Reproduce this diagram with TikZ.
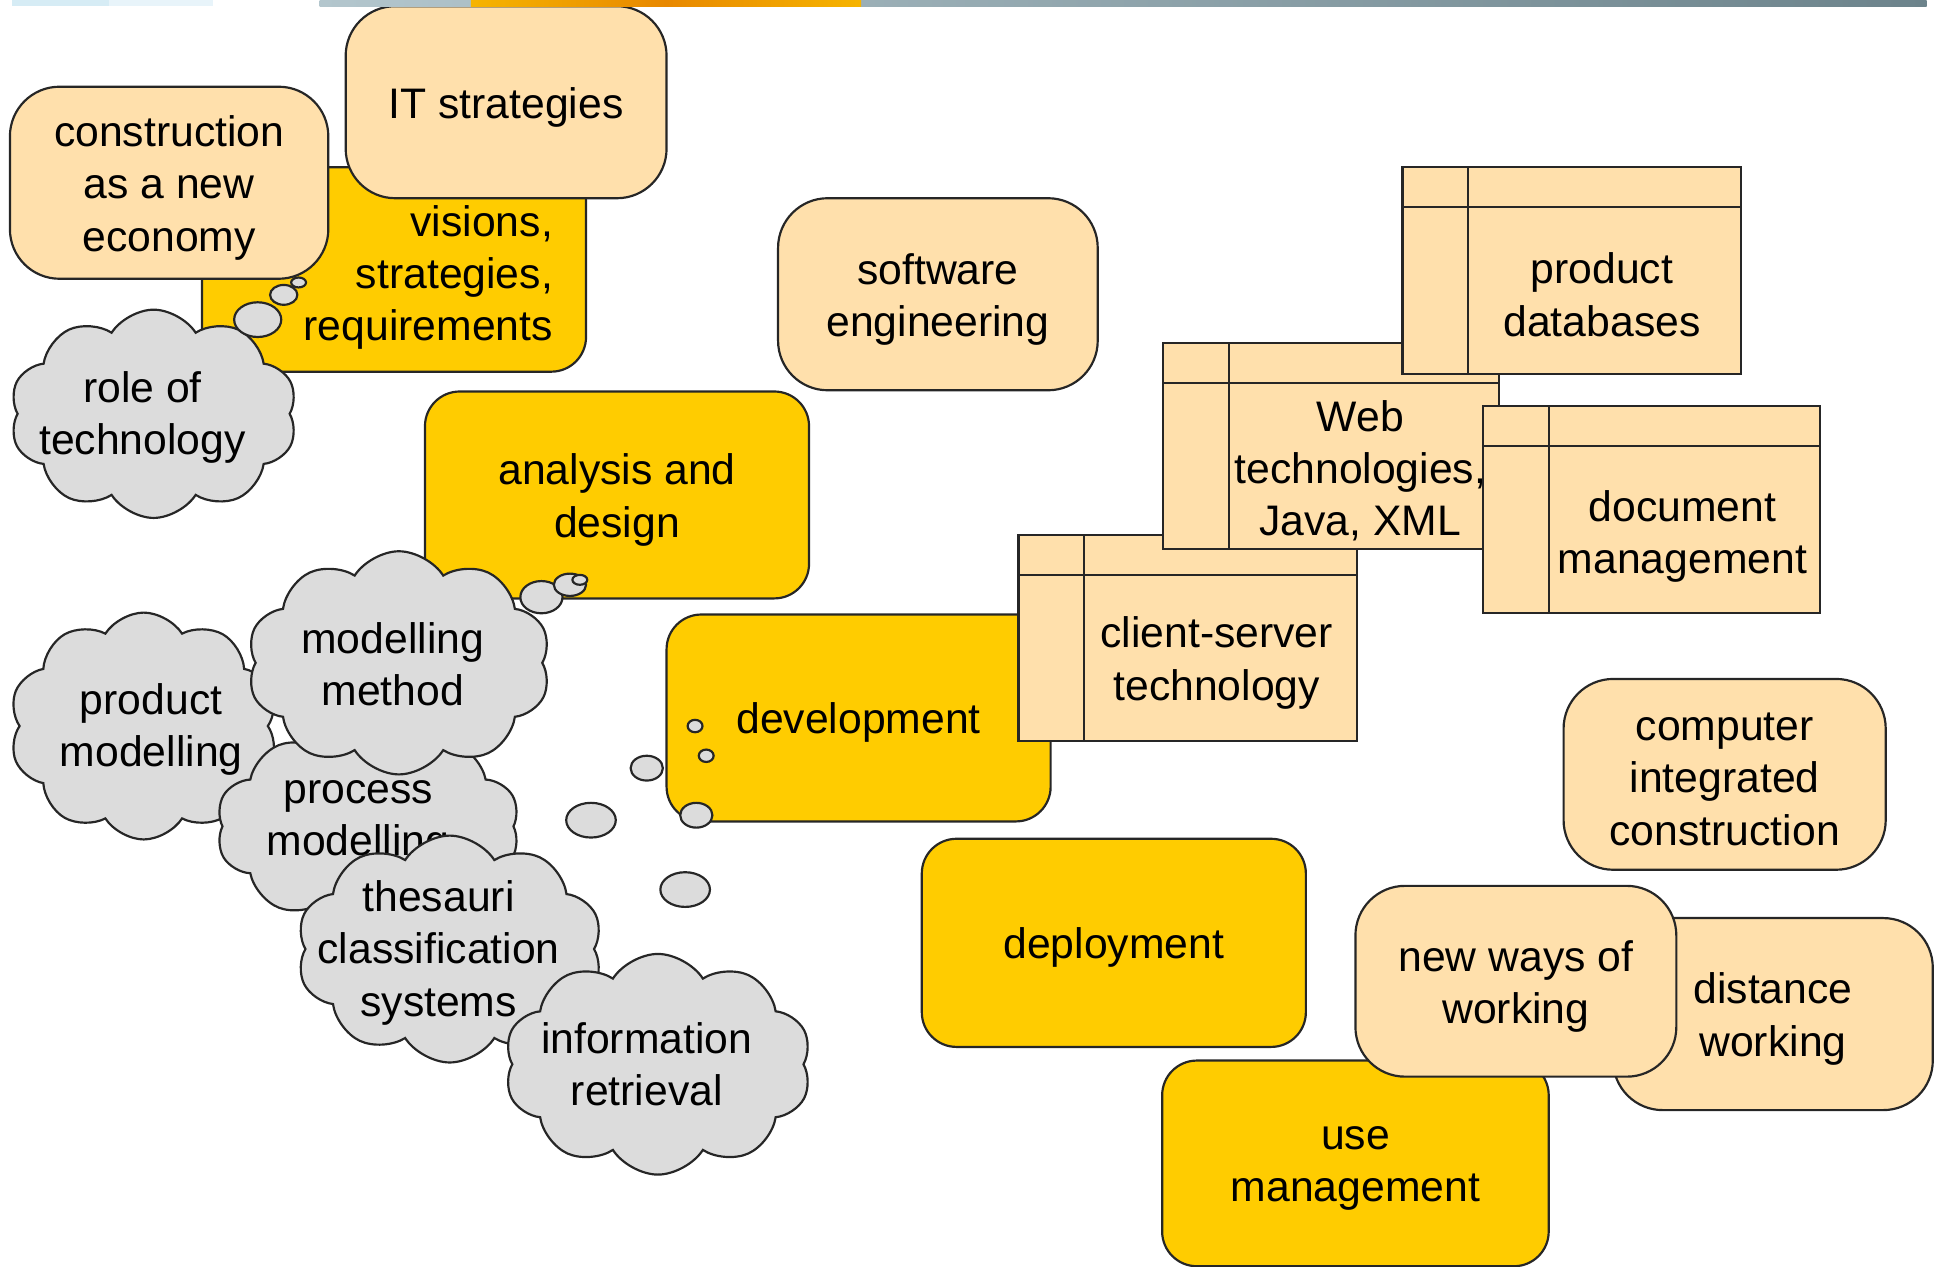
\documentclass[tikz,border=0pt]{standalone}
\usepackage{fontspec}
\setmainfont{Liberation Sans}
\usetikzlibrary{shapes.symbols,shapes.geometric}
\definecolor{lor}{HTML}{FFE0AC}
\definecolor{ylw}{HTML}{FFCC00}
\definecolor{cgray}{HTML}{DCDCDC}
\definecolor{edge}{HTML}{262626}
\definecolor{stripA}{HTML}{D6ECF5}
\definecolor{stripB}{HTML}{E8F4FA}
\definecolor{stripC}{HTML}{B3C6CD}
\definecolor{stripD}{HTML}{6C838B}
\definecolor{stripE}{HTML}{F6B400}
\definecolor{stripF}{HTML}{E88800}
% box: style, name, x1, y1, x2, y2, text (centred)
\newcommand{\bx}[7]{%
  \node[#1, minimum width={(#5-#3)*0.01cm}, minimum height={(#6-#4)*0.01cm}]
    (#2) at ({(#3+#5)/2},{(#4+#6)/2}) {};
  \node[txt] (#2T) at (#2.center) {#7};
}
\newcommand{\tblbox}[8]{% name, x1,y1,x2,y2, textx, texty, text
  \node[tbox, minimum width={(#4-#2)*0.01cm}, minimum height={(#5-#3)*0.01cm}]
    (#1) at ({(#2+#4)/2},{(#3+#5)/2}) {};
  \draw[tline] ([xshift=0.54cm]#1.north west) -- ([xshift=0.54cm]#1.south west);
  \draw[tline] ([yshift=-0.33cm]#1.north west) -- ([yshift=-0.33cm]#1.north east);
  \node[txt] (#1T) at (#6,#7) {#8};
}
\begin{document}
\begin{tikzpicture}[x=0.01cm,y=-0.01cm,
  font=\fontsize{9.8}{12}\selectfont,
  base/.style={draw=edge, line width=0.5pt, inner sep=0pt, align=center},
  lbox/.style={base, fill=lor, rounded corners=0.4cm},
  ybox/.style={base, fill=ylw, rounded corners=0.28cm},
  tbox/.style={base, fill=lor},
  tline/.style={draw=edge, line width=0.5pt},
  cld/.style={base, fill=cgray, cloud, cloud puffs=10, cloud puff arc=115, cloud ignores aspect},
  bub/.style={base, fill=cgray, ellipse},
  txt/.style={inner sep=0pt, align=center, yshift=-0.04cm},
]
\useasboundingbox (0,0) rectangle (1565,1022);

% top left group
\bx{ybox}{vis}{163}{135}{473}{300}{}
\node[txt, align=right, anchor=east] (visTx) at (447,220) {visions,\\strategies,\\requirements};
\bx{lbox}{cons}{8}{70}{265}{225}{construction\\as a new\\economy}
\bx{lbox}{its}{279}{5}{538}{160}{IT strategies}

\node[cld, minimum width=2.32cm, minimum height=1.68cm] (role) at (124,334) {};
\node[txt] (roleT) at (115,333) {role of\\technology};
\node[bub, minimum width=0.38cm, minimum height=0.28cm] (rb1) at (208,258) {};
\node[bub, minimum width=0.22cm, minimum height=0.16cm] (rb2) at (229,238) {};
\node[bub, minimum width=0.12cm, minimum height=0.08cm] (rb3) at (241,228) {};

\bx{lbox}{soft}{628}{160}{886}{315}{software\\engineering}
\bx{ybox}{ana}{343}{316}{653}{483}{analysis and\\design}
\bx{ybox}{dev}{538}{496}{848}{663}{development}

% clouds
\node[cld, minimum width=2.17cm, minimum height=1.83cm] (prod) at (116,586) {};
\node[txt] (prodT) at (122,585) {product\\modelling};
\node[cld, minimum width=2.45cm, minimum height=1.62cm] (proc) at (297,667) {};
\node[txt] (procT) at (289,660) {process\\modelling};
\node[cld, minimum width=2.45cm, minimum height=1.80cm] (meth) at (322,535) {};
\node[txt] (methT) at (317,532) {modelling\\method};
\node[bub, minimum width=0.34cm, minimum height=0.26cm] (mb1) at (437,482) {};
\node[bub, minimum width=0.26cm, minimum height=0.18cm] (mb2) at (460,472) {};
\node[bub, minimum width=0.12cm, minimum height=0.08cm] (mb3) at (468,468) {};
\node[cld, minimum width=2.47cm, minimum height=1.83cm] (thes) at (363,766) {};
\node[txt] (thesT) at (354,765) {thesauri\\classification\\systems};
\node[cld, minimum width=2.48cm, minimum height=1.78cm] (info) at (531,859) {};
\node[txt] (infoT) at (522,855) {information\\retrieval};

% development thought bubbles
\node[bub, minimum width=0.40cm, minimum height=0.28cm] (db1) at (553,718) {};
\node[bub, minimum width=0.40cm, minimum height=0.28cm] (db2) at (477,662) {};
\node[bub, minimum width=0.26cm, minimum height=0.20cm] (db3) at (522,620) {};
\node[bub, minimum width=0.26cm, minimum height=0.20cm] (db4) at (562,658) {};
\node[bub, minimum width=0.12cm, minimum height=0.10cm] (db5) at (570,610) {};
\node[bub, minimum width=0.12cm, minimum height=0.10cm] (db6) at (561,586) {};

% tables
\tblbox{cs}{822}{432}{1095}{598}{982}{531}{client-server\\technology}
\tblbox{web}{939}{277}{1210}{443}{1098}{376}{Web\\technologies,\\Java, XML}
\tblbox{pdb}{1132}{135}{1405}{302}{1293}{234}{product\\databases}
\tblbox{doc}{1197}{328}{1469}{495}{1358}{429}{document\\management}

% right lower group
\bx{lbox}{cic}{1262}{548}{1522}{702}{computer\\integrated\\construction}
\bx{ybox}{dep}{744}{677}{1054}{845}{deployment}
\bx{ybox}{use}{938}{856}{1250}{1022}{use\\management}
\bx{lbox}{dist}{1302}{741}{1560}{896}{distance\\working}
\bx{lbox}{nww}{1094}{715}{1353}{869}{new ways of\\working}

% top strip
\fill[stripA] (10,0) rectangle (88,5);
\fill[stripB] (88,0) rectangle (172,5);
\shade[left color=stripC, right color=stripD] (258,0) rectangle (1555,5);
\shade[left color=stripE, right color=stripE, middle color=stripF] (380,0) rectangle (695,5);
\end{tikzpicture}
\end{document}
